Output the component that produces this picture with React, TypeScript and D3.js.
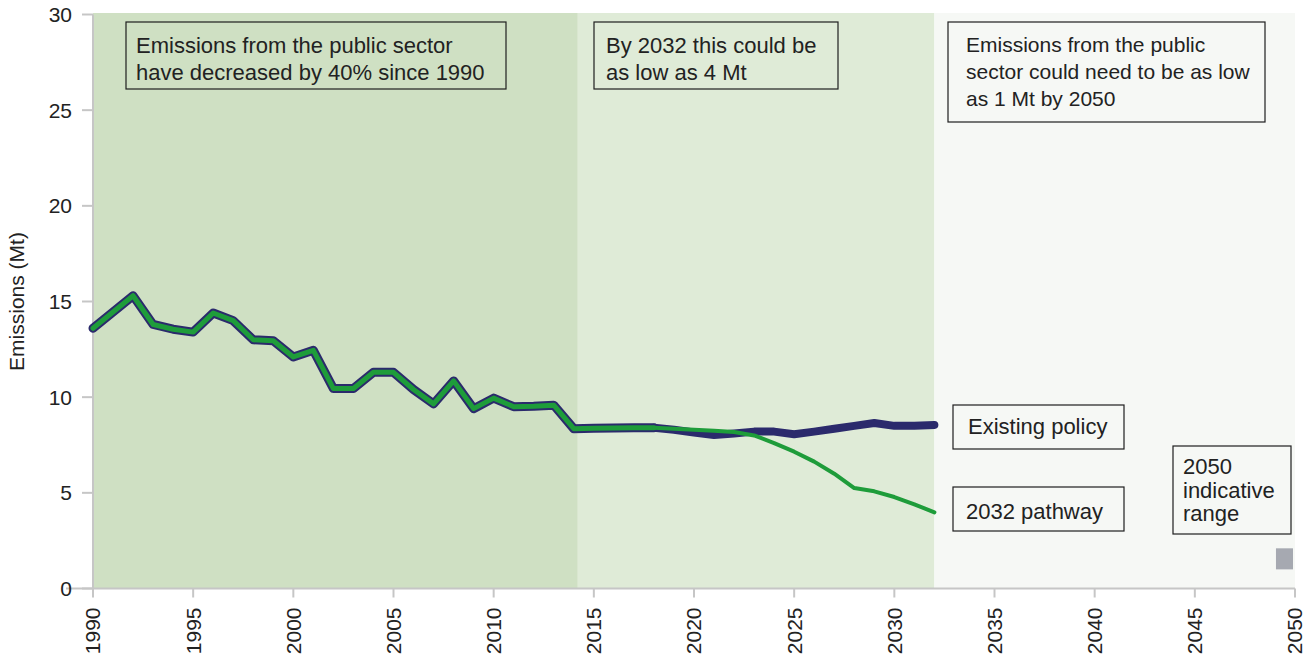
import React from "react";
import * as d3 from "d3";

const historicYears = [1990, 1991, 1992, 1993, 1994, 1995, 1996, 1997, 1998, 1999, 2000, 2001, 2002, 2003, 2004, 2005, 2006, 2007, 2008, 2009, 2010, 2011, 2012, 2013, 2014, 2015, 2016, 2017, 2018];
const historicValues = [13.6, 14.45, 15.3, 13.8, 13.55, 13.4, 14.4, 14.0, 13.0, 12.95, 12.1, 12.45, 10.45, 10.45, 11.3, 11.3, 10.4, 9.65, 10.85, 9.4, 9.95, 9.5, 9.52, 9.58, 8.35, 8.37, 8.39, 8.4, 8.4];

const projYears = [2018, 2019, 2020, 2021, 2022, 2023, 2024, 2025, 2026, 2027, 2028, 2029, 2030, 2031, 2032];
const existingPolicy = [8.4, 8.3, 8.15, 8.02, 8.1, 8.2, 8.2, 8.06, 8.2, 8.35, 8.5, 8.65, 8.5, 8.5, 8.55];
const pathway2032 = [8.4, 8.35, 8.3, 8.24, 8.18, 8.0, 7.6, 7.15, 6.63, 6.0, 5.25, 5.08, 4.78, 4.4, 3.98];

const indicativeRange = { x0: 2049.05, x1: 2049.9, low: 1.0, high: 2.1 };

const periods = [
  { start: 1990, end: 2014.2, color: "#cfe0c3" },
  { start: 2014.2, end: 2032, color: "#dfebd7" },
  { start: 2032, end: 2050, color: "#f6f8f5" },
];

const yTicks = [0, 5, 10, 15, 20, 25, 30];
const xTicks = [1990, 1995, 2000, 2005, 2010, 2015, 2020, 2025, 2030, 2035, 2040, 2045, 2050];

const FONT = "'Liberation Sans', Arial, Helvetica, sans-serif";
const NAVY = "#2b2a6c";
const GREEN = "#1e9c3a";
const AXIS = "#c6c6c6";
const TEXT = "#222222";

type Box = { x: number; y: number; w: number; h: number; lines: string[]; tx: number; ty: number; lh: number; fs: number };

const boxes: Box[] = [
  { x: 126, y: 22, w: 380, h: 67, lines: ["Emissions from the public sector", "have decreased by 40% since 1990"], tx: 136, ty: 53, lh: 27, fs: 22 },
  { x: 594, y: 22, w: 244, h: 67, lines: ["By 2032 this could be", "as low as 4 Mt"], tx: 606, ty: 53, lh: 27, fs: 22 },
  { x: 948, y: 22, w: 317, h: 100, lines: ["Emissions from the public", "sector could need to be as low", "as 1 Mt by 2050"], tx: 966, ty: 52, lh: 27, fs: 21 },
  { x: 953, y: 405, w: 171, h: 44, lines: ["Existing policy"], tx: 968, ty: 434, lh: 0, fs: 22 },
  { x: 953, y: 487, w: 171, h: 44, lines: ["2032 pathway"], tx: 966, ty: 519, lh: 0, fs: 22 },
  { x: 1173, y: 446, w: 118, h: 88, lines: ["2050", "indicative", "range"], tx: 1183, ty: 474, lh: 23.5, fs: 22 },
];

export default function App() {
  const W = 1306;
  const H = 663;
  const x = d3.scaleLinear().domain([1990, 2050]).range([93, 1295]);
  const y = d3.scaleLinear().domain([0, 30]).range([588.5, 14.5]);

  const line = d3
    .line<[number, number]>()
    .x((d) => x(d[0]))
    .y((d) => y(d[1]))
    .curve(d3.curveLinear);

  const hist = line(historicYears.map((yr, i) => [yr, historicValues[i]]) as [number, number][]) || "";
  const exist = line(projYears.map((yr, i) => [yr, existingPolicy[i]]) as [number, number][]) || "";
  const path = line(projYears.map((yr, i) => [yr, pathway2032[i]]) as [number, number][]) || "";

  return (
    <svg
      width={W}
      height={H}
      style={{ position: "absolute", left: 0, top: 0, background: "#ffffff" }}
      fontFamily={FONT}
    >
      {periods.map((p, i) => (
        <rect key={i} x={x(p.start)} y={y(30) - 1.5} width={x(p.end) - x(p.start)} height={y(0) - y(30) + 1.5} fill={p.color} />
      ))}

      {/* indicative range */}
      <rect
        x={x(indicativeRange.x0)}
        y={y(indicativeRange.high)}
        width={x(indicativeRange.x1) - x(indicativeRange.x0)}
        height={y(indicativeRange.low) - y(indicativeRange.high)}
        fill="#a6a9b1"
      />

      {/* axes */}
      <line x1={x(1990)} x2={x(1990)} y1={y(30)} y2={y(0)} stroke={AXIS} strokeWidth={2} />
      <line x1={66} x2={x(2050)} y1={y(0)} y2={y(0)} stroke={AXIS} strokeWidth={2} />
      {yTicks.map((t) => (
        <g key={t}>
          <line x1={82} x2={x(1990)} y1={y(t)} y2={y(t)} stroke={AXIS} strokeWidth={2} />
          <text x={72} y={y(t)} dy="0.35em" textAnchor="end" fontSize={21} fill={TEXT}>
            {t}
          </text>
        </g>
      ))}
      {xTicks.map((t) => (
        <g key={t}>
          <line x1={x(t)} x2={x(t)} y1={y(0)} y2={y(0) + 9} stroke={AXIS} strokeWidth={2} />
          <text
            transform={`translate(${x(t)},${y(0) + 19}) rotate(-90)`}
            dy="0.35em"
            textAnchor="end"
            fontSize={21}
            fill={TEXT}
          >
            {t}
          </text>
        </g>
      ))}
      <text transform={`translate(17,${y(15)}) rotate(-90)`} dy="0.35em" textAnchor="middle" fontSize={21} fill={TEXT}>
        Emissions (Mt)
      </text>

      {/* lines */}
      <path d={hist} fill="none" stroke={NAVY} strokeWidth={9} strokeLinejoin="round" strokeLinecap="round" />
      <path d={exist} fill="none" stroke={NAVY} strokeWidth={8} strokeLinejoin="round" strokeLinecap="round" />
      <path d={hist} fill="none" stroke={GREEN} strokeWidth={5} strokeLinejoin="round" strokeLinecap="round" />
      <path d={path} fill="none" stroke={GREEN} strokeWidth={4} strokeLinejoin="round" strokeLinecap="round" />

      {/* annotation boxes */}
      {boxes.map((b, i) => (
        <g key={i}>
          <rect x={b.x} y={b.y} width={b.w} height={b.h} fill="none" stroke="#1e1e1e" strokeWidth={1.2} />
          {b.lines.map((l, j) => (
            <text key={j} x={b.tx} y={b.ty + j * b.lh} fontSize={b.fs} fill={TEXT}>
              {l}
            </text>
          ))}
        </g>
      ))}
    </svg>
  );
}
